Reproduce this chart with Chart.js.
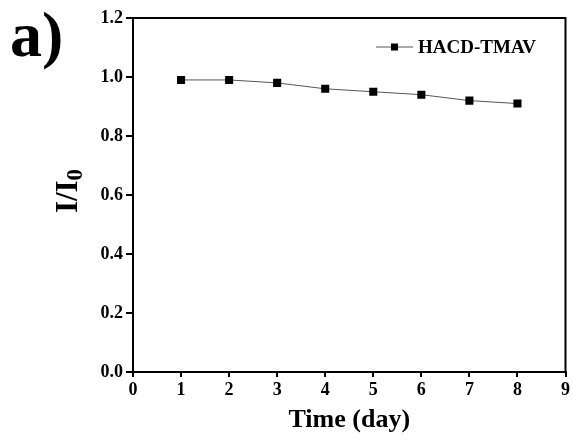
<!DOCTYPE html>
<html lang="en">
<head>
    <meta charset="UTF-8">
    <title>HACD-TMAV stability</title>
    <script src="https://cdn.jsdelivr.net/npm/chart.js"></script>
    <style>
        html, body { margin: 0; padding: 0; background: #fff; }
        #wrap { width: 573px; height: 442px; }
    </style>
</head>
<body>
    <div id="wrap"><canvas id="stabilityChart" width="573" height="442"></canvas></div>

    <script>
        // data
        const days = [1, 2, 3, 4, 5, 6, 7, 8];
        const ratio = [0.99, 0.99, 0.98, 0.96, 0.95, 0.94, 0.92, 0.91];
        const seriesName = 'HACD-TMAV';
        const xTitle = 'Time (day)';

        const serif = '"Liberation Serif", "Times New Roman", serif';

        // frame, panel letter, axis titles and legend
        const decorPlugin = {
            id: 'decor',
            afterDraw(chart) {
                const ctx = chart.ctx;
                const a = chart.chartArea;
                ctx.save();

                // top and right edges of the box
                ctx.strokeStyle = '#000';
                ctx.lineWidth = 2;
                ctx.beginPath();
                ctx.moveTo(a.left, a.top);
                ctx.lineTo(a.right, a.top);
                ctx.lineTo(a.right, a.bottom);
                ctx.stroke();

                ctx.fillStyle = '#000';

                // panel letter
                ctx.font = 'bold 64px ' + serif;
                ctx.textAlign = 'left';
                ctx.textBaseline = 'alphabetic';
                ctx.fillText('a)', 10, 56);

                // x title
                ctx.font = 'bold 26px ' + serif;
                ctx.textAlign = 'center';
                ctx.textBaseline = 'middle';
                ctx.fillText(xTitle, (a.left + a.right) / 2, 420);

                // y title I/I0, rotated
                ctx.translate(77, 191);
                ctx.rotate(-Math.PI / 2);
                ctx.font = 'bold 31px ' + serif;
                const main = 'I/I';
                const wMain = ctx.measureText(main).width;
                ctx.font = 'bold 23px ' + serif;
                const wSub = ctx.measureText('0').width;
                const x0 = -(wMain + wSub) / 2;
                ctx.textAlign = 'left';
                ctx.textBaseline = 'alphabetic';
                ctx.font = 'bold 31px ' + serif;
                ctx.fillText(main, x0, 0);
                ctx.font = 'bold 23px ' + serif;
                ctx.fillText('0', x0 + wMain, 5);
                ctx.setTransform(1, 0, 0, 1, 0, 0);

                // legend
                const ly = 47;
                ctx.strokeStyle = '#555';
                ctx.lineWidth = 1;
                ctx.beginPath();
                ctx.moveTo(376, ly);
                ctx.lineTo(413, ly);
                ctx.stroke();
                ctx.fillStyle = '#000';
                ctx.fillRect(391, ly - 3.5, 7, 7);
                ctx.font = 'bold 19px ' + serif;
                ctx.textAlign = 'left';
                ctx.textBaseline = 'middle';
                ctx.fillText(seriesName, 418, ly + 1);

                ctx.restore();
            }
        };

        const tickFont = { family: serif, size: 18, weight: 'bold' };

        const ctx = document.getElementById('stabilityChart').getContext('2d');
        new Chart(ctx, {
            type: 'line',
            data: {
                datasets: [{
                    label: seriesName,
                    data: days.map((d, i) => ({ x: d, y: ratio[i] })),
                    borderColor: '#555',
                    borderWidth: 1,
                    pointStyle: 'rect',
                    pointRadius: 5.7,
                    pointBackgroundColor: '#000',
                    pointBorderColor: '#000',
                    pointBorderWidth: 0,
                    tension: 0
                }]
            },
            options: {
                responsive: false,
                animation: false,
                events: [],
                layout: { padding: { top: 18, right: 6, left: 0, bottom: 0 } },
                plugins: {
                    legend: { display: false },
                    tooltip: { enabled: false }
                },
                scales: {
                    x: {
                        type: 'linear',
                        min: 0,
                        max: 9,
                        ticks: { stepSize: 1, color: '#000', font: tickFont, padding: 3 },
                        grid: { display: true, drawOnChartArea: false, drawTicks: true, tickLength: 5, color: '#000', lineWidth: 2 },
                        border: { display: true, color: '#000', width: 2 },
                        afterFit(scale) { scale.height = 70; }
                    },
                    y: {
                        min: 0,
                        max: 1.2,
                        ticks: { stepSize: 0.2, color: '#000', font: tickFont, padding: 3, callback: v => v.toFixed(1) },
                        grid: { display: true, drawOnChartArea: false, drawTicks: true, tickLength: 7, color: '#000', lineWidth: 2 },
                        border: { display: true, color: '#000', width: 2 },
                        afterFit(scale) { scale.width = 133; }
                    }
                }
            },
            plugins: [decorPlugin]
        });
    </script>
</body>
</html>
